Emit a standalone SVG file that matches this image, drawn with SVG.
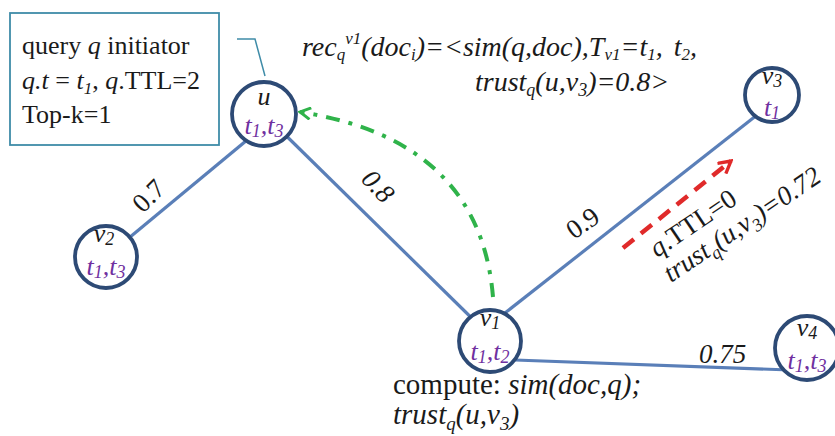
<svg xmlns="http://www.w3.org/2000/svg" width="835" height="436" viewBox="0 0 835 436">
<style>
text{font-family:"Liberation Serif","Times New Roman",serif;fill:#1a1a1a;}
.it{font-style:italic;}
.up{font-style:normal;}
.f27{font-size:27px;}
.f28{font-size:28px;}
.f29{font-size:29px;}
.f26{font-size:26px;}
.lbl{font-size:26px;text-anchor:middle;}
.tt{fill:#7030a0;font-style:italic;}
.node{fill:#ffffff;stroke:#2d4a75;stroke-width:3.8;}
.edge{stroke:#5a7fb8;stroke-width:3.2;fill:none;}
</style>
<defs>
<marker id="ag" viewBox="0 0 12 12" refX="10" refY="6" markerWidth="14" markerHeight="14" markerUnits="userSpaceOnUse" orient="auto">
<path d="M1,1 L10,6 L1,11" fill="none" stroke="#2fb34a" stroke-width="2.5"/>
</marker>
<marker id="ar" viewBox="0 0 12 12" refX="10" refY="6" markerWidth="16" markerHeight="16" markerUnits="userSpaceOnUse" orient="auto">
<path d="M1,1 L10,6 L1,11" fill="none" stroke="#e02a2a" stroke-width="2.5"/>
</marker>
</defs>
<rect width="835" height="436" fill="#ffffff"/>

<g id="connectors">
<line class="edge" x1="106" y1="257" x2="264" y2="126"/>
<line class="edge" x1="264" y1="114" x2="490" y2="336"/>
<line class="edge" x1="505" y1="313" x2="757" y2="115"/>
<line class="edge" x1="515" y1="360" x2="790" y2="370"/>
<path d="M493,297 Q480,140 300,112" fill="none" stroke="#2fb34a" stroke-width="4" stroke-dasharray="14 9 4 9" marker-end="url(#ag)"/>
<line x1="623" y1="248" x2="731" y2="161" stroke="#e02a2a" stroke-width="4.5" stroke-dasharray="14 9" marker-end="url(#ar)"/>
<polyline points="237,39 255,39 265,76" fill="none" stroke="#3f8ca8" stroke-width="1.5"/>
<text class="f27 up" transform="translate(143,214) rotate(-45)">0.7</text>
<text class="f27 it" transform="translate(360,180) rotate(47)">0.8</text>
<text class="f27 up" transform="translate(574,240) rotate(-35)">0.9</text>
<text class="f27 it" x="699" y="363">0.75</text>
</g>

<g id="initiator-box">
<rect x="10" y="13" width="209" height="132" fill="#ffffff" stroke="#3f8ca8" stroke-width="1.8"/>
<text class="f26" x="22" y="54">query <tspan class="it">q</tspan> initiator</text>
<text class="f26" x="22" y="89"><tspan class="it">q.t</tspan> = <tspan class="it">t</tspan><tspan class="it" font-size="17" dy="5">1</tspan><tspan dy="-5">, </tspan><tspan class="it">q</tspan>.TTL=2</text>
<text class="f26" x="22" y="123">Top-k=1</text>
</g>

<g id="rec-formula">
<text class="f28 it" x="302" y="56">rec<tspan font-size="17" dy="4">q</tspan><tspan font-size="17" dy="-16">v1</tspan><tspan dy="12">(doc</tspan><tspan font-size="17" dy="4">i</tspan><tspan dy="-4">)=&lt;sim(q,doc),T</tspan><tspan font-size="17" dy="4">v1</tspan><tspan dy="-4">=t</tspan><tspan font-size="17" dy="4">1</tspan><tspan dy="-4">,</tspan><tspan dx="11">t</tspan><tspan font-size="17" dy="4">2</tspan><tspan dy="-4">,</tspan></text>
<text class="f28 it" x="475" y="91">trust<tspan font-size="18" dy="5">q</tspan><tspan dy="-5">(u,v</tspan><tspan font-size="18" dy="5">3</tspan><tspan dy="-5">)=0.8&gt;</tspan></text>
</g>

<g id="node-u">
<circle class="node" cx="264" cy="114" r="32"/>
<text class="lbl it" x="264" y="105">u</text>
<text class="lbl tt" x="264" y="134">t<tspan font-size="18" dy="3">1</tspan><tspan dy="-3">,t</tspan><tspan font-size="18" dy="3">3</tspan></text>
</g>

<g id="node-v2">
<circle class="node" cx="106" cy="257" r="31"/>
<text class="lbl it" x="104" y="242">v<tspan font-size="18" dy="3">2</tspan></text>
<text class="lbl tt" x="106" y="275">t<tspan font-size="18" dy="3">1</tspan><tspan dy="-3">,t</tspan><tspan font-size="18" dy="3">3</tspan></text>
</g>

<g id="node-v1">
<circle class="node" cx="490" cy="341" r="31"/>
<text class="lbl it" x="490" y="326">v<tspan font-size="18" dy="3">1</tspan></text>
<text class="lbl tt" x="490" y="360">t<tspan font-size="18" dy="3">1</tspan><tspan dy="-3">,t</tspan><tspan font-size="18" dy="3">2</tspan></text>
</g>

<g id="node-v3">
<circle class="node" cx="772" cy="95" r="27"/>
<text class="lbl it" x="772" y="84">v<tspan font-size="18" dy="3">3</tspan></text>
<text class="lbl tt" x="772" y="116">t<tspan font-size="18" dy="3">1</tspan></text>
</g>

<g id="node-v4">
<circle class="node" cx="807" cy="348" r="32"/>
<text class="lbl it" x="807" y="336">v<tspan font-size="18" dy="3">4</tspan></text>
<text class="lbl tt" x="807" y="369">t<tspan font-size="18" dy="3">1</tspan><tspan dy="-3">,t</tspan><tspan font-size="18" dy="3">3</tspan></text>
</g>

<g id="ttl-note">
<text class="f27 up" transform="translate(657,258) rotate(-34)"><tspan class="it">q</tspan>.TTL=0</text>
<text class="f27 it" transform="translate(671,283) rotate(-34)">trust<tspan font-size="18" dy="6">q</tspan><tspan dy="-6">(u,v</tspan><tspan font-size="18" dy="6">3</tspan><tspan dy="-6">)=0.72</tspan></text>
</g>

<g id="compute-note">
<text class="f29" x="393" y="394">compute: <tspan class="it">sim(doc,q);</tspan></text>
<text class="f29 it" x="393" y="424">trust<tspan font-size="19" dy="6">q</tspan><tspan dy="-6">(u,v</tspan><tspan font-size="19" dy="6">3</tspan><tspan dy="-6">)</tspan></text>
</g>
</svg>
